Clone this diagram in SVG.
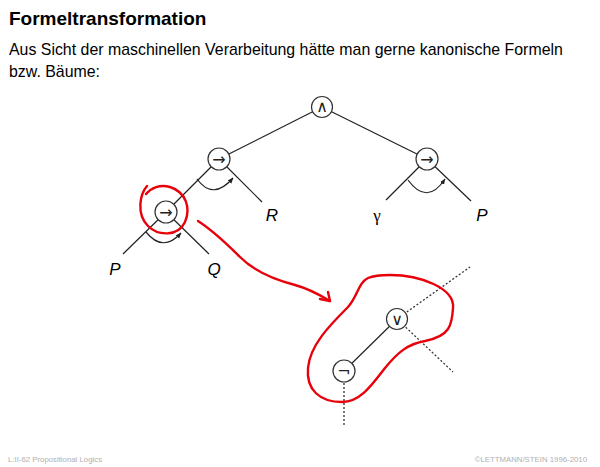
<svg xmlns="http://www.w3.org/2000/svg" width="600" height="467" viewBox="0 0 600 467">
<style>
.title{font-family:"Liberation Sans",Arial,sans-serif;font-weight:bold;font-size:19px;fill:#000}
.body{font-family:"Liberation Sans",Arial,sans-serif;font-size:15.9px;fill:#000}
.foot{font-family:"Liberation Sans",Arial,sans-serif;font-size:7.8px;fill:#b0b0b0}
.edge{stroke:#222;stroke-width:1.2;fill:none}
.dot{stroke:#333;stroke-width:1.3;fill:none;stroke-dasharray:2 2}
.node circle{fill:#fff;stroke:#333;stroke-width:1.2}
.op{font-family:"DejaVu Sans",sans-serif;font-size:16px;fill:#222;text-anchor:middle}
.leaf{font-family:"Liberation Sans",Arial,sans-serif;font-style:italic;font-size:17px;fill:#000;text-anchor:middle}
.greek{font-family:"Liberation Serif",serif;font-size:17px;fill:#000;text-anchor:middle}
.arc{stroke:#222;stroke-width:1.2;fill:none;marker-end:url(#ah)}
.red{stroke:#e8000b;stroke-width:2.4;fill:none;stroke-linecap:round;stroke-linejoin:round}
</style>
<defs>
<marker id="ah" viewBox="0 0 10 10" refX="9" refY="5" markerWidth="6" markerHeight="6" markerUnits="userSpaceOnUse" orient="auto">
<path d="M0,1 L10,5 L0,9 Z" fill="#222"/>
</marker>
</defs>
<rect width="600" height="467" fill="#fff"/>
<text class="title" x="9" y="25">Formeltransformation</text>
<text class="body" x="9" y="55">Aus Sicht der maschinellen Verarbeitung hätte man gerne kanonische Formeln</text>
<text class="body" x="9" y="77">bzw. Bäume:</text>

<g id="connectors">
<line class="edge" x1="322" y1="107" x2="219" y2="159"/>
<line class="edge" x1="322" y1="107" x2="427" y2="159"/>
<line class="edge" x1="219" y1="159" x2="166" y2="212"/>
<line class="edge" x1="219" y1="159" x2="262" y2="202"/>
<line class="edge" x1="427" y1="159" x2="386" y2="200"/>
<line class="edge" x1="427" y1="159" x2="471" y2="201"/>
<line class="edge" x1="166" y1="212" x2="123" y2="254"/>
<line class="edge" x1="166" y1="212" x2="209" y2="254"/>
<path class="arc" d="M197,179 Q213,201 233,178"/>
<path class="arc" d="M408,180 Q427,206 445,179"/>
<path class="arc" d="M146,232 Q163,253 181,233"/>
<line class="edge" x1="397" y1="319" x2="344" y2="371"/>
<line class="dot" x1="397" y1="319" x2="470" y2="267"/>
<line class="dot" x1="397" y1="319" x2="453" y2="372"/>
<line class="dot" x1="344" y1="371" x2="344" y2="427"/>
</g>

<g id="n-and" class="node"><circle cx="322" cy="107" r="10.5"/><text class="op" x="322" y="112">∧</text></g>
<g id="n-imp1" class="node"><circle cx="219" cy="159" r="11"/><text class="op" x="219" y="164.5">→</text></g>
<g id="n-imp2" class="node"><circle cx="427" cy="159" r="11"/><text class="op" x="427" y="164.5">→</text></g>
<g id="n-imp3" class="node"><circle cx="166" cy="212" r="11"/><text class="op" x="166" y="217.5">→</text></g>
<g id="n-or" class="node"><circle cx="397" cy="319" r="10.5"/><text class="op" x="397" y="324.5">∨</text></g>
<g id="n-not" class="node"><circle cx="344" cy="371" r="11"/><text class="op" x="344" y="377">¬</text></g>

<g id="leaf-R"><text class="leaf" x="272" y="221">R</text></g>
<g id="leaf-gamma"><text class="greek" x="377" y="221">γ</text></g>
<g id="leaf-P2"><text class="leaf" x="482" y="221">P</text></g>
<g id="leaf-P1"><text class="leaf" x="115" y="275">P</text></g>
<g id="leaf-Q"><text class="leaf" x="214" y="275">Q</text></g>

<g id="annotations">
<path class="red" d="M147,186 C140,194 136,214 148,226 C158,236 178,237 185,222 C191,208 186,192 170,187 C160,184 151,188 146,194"/>
<path class="red" d="M198,221 C215,232 228,245 240,257 C255,272 275,280 295,285 C310,289 320,295 330,301"/>
<path class="red" d="M320,299 L330,301 L328,292"/>
<path class="red" d="M390,275 C420,275 455,288 453,308 C452,325 450,336 425,341 C408,344 398,352 385,368 C372,385 360,402 342,402 C320,402 306,390 308,368 C310,345 330,325 348,307 C358,296 358,283 368,278 C375,275 382,275 390,275 Z"/>
</g>

<text class="foot" x="8" y="462">L:II-62    Propositional Logics</text>
<text class="foot" x="587" y="462" text-anchor="end">©LETTMANN/STEIN 1996-2010</text>
</svg>
